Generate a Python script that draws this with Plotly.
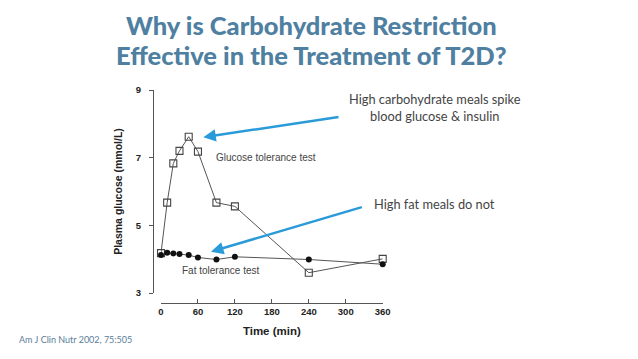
import plotly.graph_objects as go

# ---- data ----
time_glucose = [0, 10, 20, 30, 45, 60, 90, 120, 240, 360]
glucose_tol = [4.18, 5.67, 6.83, 7.2, 7.62, 7.18, 5.67, 5.56, 3.6, 4.01]
time_fat = [0, 10, 20, 30, 45, 60, 90, 120, 240, 360]
fat_tol = [4.12, 4.19, 4.17, 4.15, 4.12, 4.05, 3.99, 4.07, 3.99, 3.85]
x_ticks = [0, 60, 120, 180, 240, 300, 360]
y_ticks = [3, 5, 7, 9]

# page has an 8px body margin; figure is sized to fit inside the window
W, H = 638, 359
M = 8
FW, FH = W - 2 * M, H - 2 * M
def px(x):
    return (x - M) / FW
def py(y):
    return (H - M - y) / FH

axis_col = "#555555"
line_col = "#555555"
fig = go.Figure()
fig.add_trace(go.Scatter(
    x=time_glucose, y=glucose_tol, mode="lines+markers",
    line=dict(color=line_col, width=1),
    marker=dict(symbol="square-open", size=7, color="#444444", line=dict(width=1.1)),
    cliponaxis=False, showlegend=False))
fig.add_trace(go.Scatter(
    x=time_fat, y=fat_tol, mode="lines+markers",
    line=dict(color=line_col, width=1),
    marker=dict(symbol="circle", size=6, color="#111111"),
    cliponaxis=False, showlegend=False))

tickfont = dict(family="Liberation Sans, Arial, sans-serif", size=9.5, color="#222222", weight="bold")
fig.update_layout(
    width=FW, height=FH,
    margin=dict(l=0, r=0, t=0, b=0, pad=0, autoexpand=False),
    paper_bgcolor="white", plot_bgcolor="white",
    xaxis=dict(domain=[px(161), px(382.7)], range=[0, 360], anchor="free", position=py(303),
               automargin=False,
               tickvals=x_ticks, ticks="inside", ticklen=4, tickcolor=axis_col,
               showline=True, linecolor=axis_col, linewidth=1, showgrid=False, zeroline=False,
               tickfont=tickfont, ticklabelstandoff=0,
               title=dict(text="Time (min)", font=dict(family="Liberation Sans, Arial, sans-serif", size=11.5, color="#222222", weight="bold"), standoff=10)),
    yaxis=dict(domain=[py(293), py(90)], range=[3, 9], anchor="free", position=px(153),
               automargin=False,
               tickvals=y_ticks, ticks="outside", ticklen=4, tickcolor=axis_col,
               showline=True, linecolor=axis_col, linewidth=1, showgrid=False, zeroline=False,
               tickfont=tickfont, ticklabelstandoff=6,
               title=dict(text="Plasma glucose (mmol/L)", font=dict(family="Liberation Sans, Arial, sans-serif", size=10.5, color="#222222", weight="bold"), standoff=10)),
)

title_col = "#4F7FA1"
title_font = dict(family="Lato, sans-serif", size=25.5, color=title_col, weight=900)
ann = []
ann.append(dict(text="Why is Carbohydrate Restriction", x=px(311), y=1.0, xref="paper", yref="paper",
                showarrow=False, xanchor="center", yanchor="top", font=title_font))
ann.append(dict(text="Effective in the Treatment of T2D?", x=px(311), y=py(55), xref="paper", yref="paper",
                showarrow=False, xanchor="center", yanchor="middle", font=title_font))
ann.append(dict(text="Glucose tolerance test", x=px(266), y=py(157), xref="paper", yref="paper",
                showarrow=False, xanchor="center", yanchor="middle",
                font=dict(family="Liberation Sans, Arial, sans-serif", size=10, color="#444444")))
ann.append(dict(text="Fat tolerance test", x=px(220), y=py(270), xref="paper", yref="paper",
                showarrow=False, xanchor="center", yanchor="middle",
                font=dict(family="Liberation Sans, Arial, sans-serif", size=10, color="#444444")))
ann.append(dict(text="High carbohydrate meals spike<br>blood glucose & insulin", x=px(435), y=py(108), xref="paper", yref="paper",
                showarrow=False, xanchor="center", yanchor="middle", align="center",
                font=dict(family="Lato, sans-serif", size=12.8, color="#444444")))
ann.append(dict(text="High fat meals do not", x=px(434), y=py(204), xref="paper", yref="paper",
                showarrow=False, xanchor="center", yanchor="middle",
                font=dict(family="Lato, sans-serif", size=12.8, color="#444444")))
ann.append(dict(text="Am J Clin Nutr 2002, 75:505", x=px(17), y=py(339), xref="paper", yref="paper",
                showarrow=False, xanchor="left", yanchor="middle",
                font=dict(family="Lato, sans-serif", size=9, color="#5B7D98")))
arrow_col = "#2A9BD8"
ann.append(dict(text="", x=px(203.3), y=py(137.3), xref="paper", yref="paper",
                ax=136.7, ay=-20.6, showarrow=True, arrowhead=2, arrowsize=1, arrowwidth=2.5,
                arrowcolor=arrow_col))
ann.append(dict(text="", x=px(211), y=py(251.7), xref="paper", yref="paper",
                ax=152.3, ay=-45, showarrow=True, arrowhead=2, arrowsize=1, arrowwidth=2.5,
                arrowcolor=arrow_col))
fig.update_layout(annotations=ann)

fig.write_html("out.html")
